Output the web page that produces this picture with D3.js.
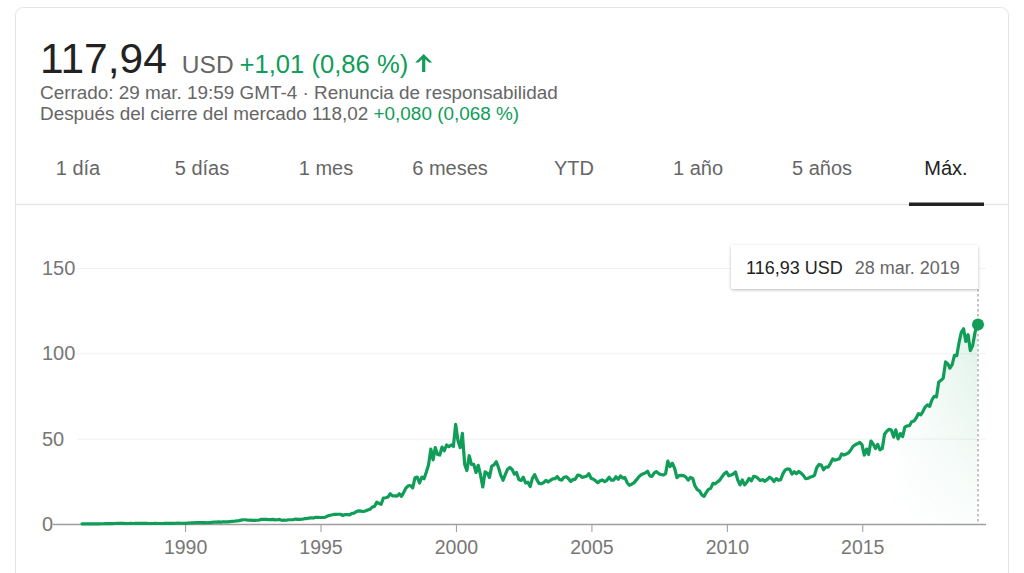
<!DOCTYPE html>
<html>
<head>
<meta charset="utf-8">
<script src="https://cdn.jsdelivr.net/npm/d3@7"></script>
<style>
    body { margin: 0; background: #fff; }
    #chart { width: 1024px; height: 573px; overflow: hidden; }
    text { font-family: Arial, "Liberation Sans", sans-serif; }
</style>
</head>
<body>
<div id="chart"></div>
<script>

// monthly closes, first one is the 13 mar. 1986 listing, last one is 28 mar. 2019
var firstDate = new Date(1986, 2, 13);
var closes = [
    // 1986 (mar - dic)
    0.10, 0.11, 0.11, 0.10, 0.09, 0.10, 0.11, 0.13, 0.14, 0.14,
    // 1987
    0.19, 0.24, 0.27, 0.26, 0.28, 0.31, 0.34, 0.40, 0.42, 0.30, 0.28, 0.32,
    // 1988
    0.30, 0.32, 0.33, 0.35, 0.33, 0.34, 0.31, 0.29, 0.30, 0.30, 0.31, 0.30,
    // 1989
    0.30, 0.29, 0.32, 0.35, 0.40, 0.38, 0.40, 0.44, 0.47, 0.45, 0.44, 0.40,
    // 1990
    0.55, 0.60, 0.65, 0.70, 0.78, 0.85, 0.85, 0.75, 0.75, 0.72, 0.85, 0.95,
    // 1991
    1.05, 1.10, 1.20, 1.10, 1.20, 1.20, 1.30, 1.40, 1.50, 1.60, 1.80, 2.00,
    // 1992
    2.30, 2.50, 2.50, 2.20, 2.30, 2.10, 2.10, 2.20, 2.30, 2.70, 2.80, 2.70,
    // 1993
    2.60, 2.60, 2.70, 2.40, 2.50, 2.70, 2.10, 2.30, 2.20, 2.50, 2.50, 2.50,
    // 1994
    2.90, 2.70, 2.70, 2.80, 3.10, 3.20, 3.40, 3.60, 3.50, 3.90, 3.90, 3.80,
    // 1995
    3.80, 3.90, 4.50, 5.00, 5.30, 5.60, 5.60, 5.70, 5.70, 5.00, 5.50, 5.50,
    // 1996
    5.40, 6.20, 6.40, 7.20, 7.70, 7.50, 7.30, 7.60, 8.20, 8.60, 9.90, 10.3,
    // 1997
    12.8, 12.1, 11.5, 15.2, 15.4, 15.8, 17.7, 16.5, 16.5, 16.3, 17.7, 16.2,
    // 1998
    18.6, 21.2, 22.4, 22.5, 21.2, 27.1, 27.5, 24.0, 27.5, 26.5, 30.5, 34.7,
    // 1999
    43.9, 37.6, 44.8, 40.7, 40.4, 45.1, 42.9, 46.3, 45.3, 46.3, 45.5, 58.4,
    // 2000
    48.9, 44.7, 53.1, 34.9, 31.3, 40.0, 34.9, 35.0, 30.2, 34.4, 28.6, 21.7,
    // 2001
    30.5, 29.7, 27.3, 33.9, 34.6, 36.5, 33.1, 28.5, 25.6, 29.1, 32.1, 33.1,
    // 2002
    31.9, 29.2, 30.2, 26.1, 25.5, 27.4, 24.0, 24.5, 21.9, 26.7, 28.9, 25.9,
    // 2003
    23.7, 23.7, 24.2, 25.6, 24.6, 25.6, 26.4, 26.5, 27.8, 26.1, 25.7, 27.4,
    // 2004
    27.7, 26.5, 24.9, 26.1, 26.2, 28.6, 28.5, 27.3, 27.7, 28.0, 29.5, 26.7,
    // 2005
    26.3, 25.2, 24.2, 25.3, 25.8, 24.8, 25.6, 27.4, 25.7, 25.7, 27.7, 26.2,
    // 2006
    28.2, 26.9, 27.2, 24.2, 22.7, 23.3, 24.1, 25.7, 27.4, 28.7, 29.4, 29.9,
    // 2007
    30.9, 28.2, 27.9, 29.9, 30.7, 29.5, 29.0, 28.7, 29.5, 36.8, 33.6, 35.6,
    // 2008
    32.6, 27.2, 28.4, 28.5, 28.3, 27.5, 25.7, 27.3, 26.7, 22.3, 20.2, 19.4,
    // 2009
    17.1, 16.2, 18.4, 20.3, 20.9, 23.8, 23.5, 24.7, 25.7, 27.7, 29.4, 30.5,
    // 2010
    28.2, 28.7, 29.3, 30.5, 25.8, 23.0, 25.8, 22.9, 24.5, 26.7, 25.3, 27.9,
    // 2011
    27.7, 26.6, 25.4, 26.0, 25.0, 26.0, 27.4, 26.6, 24.9, 26.6, 25.6, 26.0,
    // 2012
    29.5, 31.7, 32.3, 32.0, 29.2, 30.6, 29.5, 30.8, 29.8, 28.5, 26.6, 26.7,
    // 2013
    27.5, 27.8, 28.6, 33.1, 34.9, 34.5, 31.8, 33.4, 33.3, 35.4, 38.1, 37.4,
    // 2014
    37.8, 38.3, 41.0, 40.4, 40.9, 41.7, 43.2, 45.4, 46.4, 47.0, 47.8, 46.5,
    // 2015
    40.4, 43.9, 40.7, 48.6, 46.9, 44.2, 46.7, 43.5, 44.3, 52.6, 54.4, 55.5,
    // 2016
    55.1, 50.9, 55.2, 49.9, 53.0, 51.2, 56.7, 57.5, 57.6, 59.9, 60.3, 62.1,
    // 2017
    64.7, 64.0, 65.9, 68.5, 69.8, 68.9, 72.7, 74.8, 74.5, 83.2, 84.2, 85.5,
    // 2018
    95.0, 93.8, 91.3, 93.5, 98.8, 98.6, 106.1, 112.3, 114.4, 107.0, 110.9, 101.6,
    // 2019 (ene - 28 mar.)
    104.4, 112.0, 116.93
];

var yTicks = [0, 50, 100, 150];
var xTickYears = [1990, 1995, 2000, 2005, 2010, 2015];
var tabs = ["1 día", "5 días", "1 mes", "6 meses", "YTD", "1 año", "5 años", "Máx."];
var activeTab = "Máx.";

var header = {
    price: "117,94",
    currency: "USD",
    change: "+1,01 (0,86 %)",
    closed: "Cerrado: 29 mar. 19:59 GMT-4 · Renuncia de responsabilidad",
    after: "Después del cierre del mercado 118,02 ",
    afterChange: "+0,080 (0,068 %)"
};
var tooltipValue = "116,93 USD";
var tooltipDate = "28 mar. 2019";

var green = "#0f9d58";

// one point per month, placed on the 28th (first point on the listing day)
var data = closes.map(function (v, i) {
    return {
        date: i === 0 ? firstDate : new Date(1986, 2 + i, 28),
        value: v
    };
});
var last = data[data.length - 1];

/*
SVG CANVAS
*/
var width = 1024;
var height = 573;
var svg = d3.select("#chart")
    .append("svg")
    .attr("width", width)
    .attr("height", height);

var defs = svg.append("defs");

var shadow = defs.append("filter").attr("id", "shadow")
    .attr("x", "-10%").attr("y", "-30%").attr("width", "120%").attr("height", "180%");
shadow.append("feDropShadow")
    .attr("dx", 0).attr("dy", 1).attr("stdDeviation", 1.6)
    .attr("flood-color", "#000").attr("flood-opacity", 0.28);

// card
svg.append("rect")
    .attr("x", 15.5).attr("y", 7.5)
    .attr("width", 993).attr("height", 620)
    .attr("rx", 8)
    .attr("fill", "#fff")
    .attr("stroke", "#e3e3e3");

/*
HEADER
*/
var priceLine = svg.append("text").attr("x", 40).attr("y", 73);
priceLine.append("tspan").text(header.price)
    .attr("font-size", 42.5).attr("fill", "#222");
priceLine.append("tspan").text(header.currency)
    .attr("dx", 15).attr("font-size", 24.5).attr("fill", "#666");
priceLine.append("tspan").text(header.change)
    .attr("dx", 6).attr("font-size", 25.6).attr("fill", green);

// up arrow, just after the change text
var box = priceLine.node().getBBox();
var arrowX = box.x + box.width + 15.5;
svg.append("path")
    .attr("transform", "translate(" + arrowX + ",54)")
    .attr("d", "M0,0 L8.5,8.5 L5.2,8.5 L1.6,5.2 L1.6,18 L-1.6,18 L-1.6,5.2 L-5.2,8.5 L-8.5,8.5 Z")
    .attr("fill", green);

svg.append("text")
    .attr("x", 40).attr("y", 98.5)
    .attr("font-size", 18.9).attr("fill", "#666")
    .text(header.closed);

var afterLine = svg.append("text").attr("x", 40).attr("y", 119.5)
    .attr("font-size", 18.9);
afterLine.append("tspan").text(header.after).attr("fill", "#666");
afterLine.append("tspan").text(header.afterChange).attr("fill", green);

/*
TABS
*/
var tabScale = d3.scaleBand().domain(tabs).range([16, 1008]);

svg.selectAll(".tab")
    .data(tabs)
    .join("text")
    .attr("class", "tab")
    .attr("x", function (d) { return tabScale(d) + tabScale.bandwidth() / 2; })
    .attr("y", 175)
    .attr("text-anchor", "middle")
    .attr("font-size", 20)
    .attr("fill", function (d) { return d === activeTab ? "#222" : "#666"; })
    .text(function (d) { return d; });

svg.append("line")
    .attr("x1", 16).attr("x2", 1008)
    .attr("y1", 204.5).attr("y2", 204.5)
    .attr("stroke", "#e6e6e6").attr("stroke-width", 1.5);

svg.append("rect")
    .attr("x", tabScale(activeTab) + tabScale.bandwidth() / 2 - 37)
    .attr("y", 202.5)
    .attr("width", 75).attr("height", 3.5)
    .attr("fill", "#222");

/*
SCALES
*/
var xScale = d3.scaleTime()
    .domain([firstDate, last.date])
    .range([82, 977]);

var yScale = d3.scaleLinear()
    .domain([0, 150])
    .range([524, 268]);

/*
GRID + AXES
*/
svg.selectAll(".grid")
    .data(yTicks.filter(function (d) { return d > 0; }))
    .join("line")
    .attr("class", "grid")
    .attr("x1", 77).attr("x2", 986)
    .attr("y1", function (d) { return yScale(d) + 0.5; })
    .attr("y2", function (d) { return yScale(d) + 0.5; })
    .attr("stroke", "#f1f1f1");

svg.selectAll(".ylab")
    .data(yTicks)
    .join("text")
    .attr("class", "ylab")
    .attr("x", 42)
    .attr("y", function (d) { return yScale(d); })
    .attr("dy", "0.35em")
    .attr("font-size", 20)
    .attr("fill", "#777")
    .text(function (d) { return d; });

var xAxis = svg.append("g")
    .attr("transform", "translate(0," + yScale(0) + ")")
    .call(d3.axisBottom(xScale)
        .tickValues(xTickYears.map(function (y) { return new Date(y, 0, 1); }))
        .tickFormat(d3.timeFormat("%Y"))
        .tickSize(8)
        .tickPadding(8)
        .tickSizeOuter(0));
xAxis.select(".domain").remove();
xAxis.selectAll(".tick line").attr("stroke", "#999");
xAxis.selectAll(".tick text")
    .attr("font-size", 19.5)
    .attr("fill", "#777")
    .attr("font-family", "Arial, 'Liberation Sans', sans-serif");

svg.append("line")
    .attr("x1", 53).attr("x2", 986)
    .attr("y1", yScale(0) + 0.5).attr("y2", yScale(0) + 0.5)
    .attr("stroke", "#9e9e9e").attr("stroke-width", 1.3);

/*
AREA FADE (near the hovered end)
*/
var fillGrad = defs.append("linearGradient").attr("id", "fillGrad")
    .attr("gradientUnits", "userSpaceOnUse")
    .attr("x1", 885).attr("x2", 977).attr("y1", 0).attr("y2", 0);
fillGrad.append("stop").attr("offset", 0).attr("stop-color", green).attr("stop-opacity", 0);
fillGrad.append("stop").attr("offset", 1).attr("stop-color", green).attr("stop-opacity", 0.14);

var maskGrad = defs.append("linearGradient").attr("id", "maskGrad")
    .attr("gradientUnits", "userSpaceOnUse")
    .attr("x1", 0).attr("x2", 0).attr("y1", 320).attr("y2", 524);
maskGrad.append("stop").attr("offset", 0).attr("stop-color", "#fff");
maskGrad.append("stop").attr("offset", 1).attr("stop-color", "#fff").attr("stop-opacity", 0.1);

defs.append("mask").attr("id", "fadeMask")
    .attr("maskUnits", "userSpaceOnUse")
    .attr("x", 0).attr("y", 0).attr("width", width).attr("height", height)
    .append("rect")
    .attr("x", 0).attr("y", 0).attr("width", width).attr("height", height)
    .attr("fill", "url(#maskGrad)");

var area = d3.area()
    .x(function (d) { return xScale(d.date); })
    .y0(yScale(0))
    .y1(function (d) { return yScale(d.value); });

svg.append("path")
    .datum(data)
    .attr("d", area)
    .attr("fill", "url(#fillGrad)")
    .attr("mask", "url(#fadeMask)");

/*
LINE
*/
var line = d3.line()
    .x(function (d) { return xScale(d.date); })
    .y(function (d) { return yScale(d.value); });

svg.append("path")
    .datum(data)
    .attr("d", line)
    .attr("fill", "none")
    .attr("stroke", green)
    .attr("stroke-width", 3.2)
    .attr("stroke-linejoin", "round")
    .attr("stroke-linecap", "round");

/*
HOVER MARKER + TOOLTIP
*/
var hx = xScale(last.date) + 1;
var tipTop = 245, tipH = 44, tipW = 247;

svg.append("line")
    .attr("x1", hx).attr("x2", hx)
    .attr("y1", tipTop + tipH).attr("y2", yScale(0))
    .attr("stroke", "#999")
    .attr("stroke-width", 1.2)
    .attr("stroke-dasharray", "2.5,2.5");

svg.append("circle")
    .attr("cx", hx).attr("cy", yScale(last.value))
    .attr("r", 6)
    .attr("fill", green);

var tip = svg.append("g").attr("transform", "translate(" + (hx - tipW) + "," + tipTop + ")");
tip.append("rect")
    .attr("width", tipW).attr("height", tipH)
    .attr("rx", 2)
    .attr("fill", "#fff")
    .attr("filter", "url(#shadow)");
var tipText = tip.append("text").attr("x", 15).attr("y", 28.5).attr("font-size", 18);
tipText.append("tspan").text(tooltipValue).attr("fill", "#222");
tipText.append("tspan").text(tooltipDate).attr("dx", 12).attr("fill", "#666");

</script>
</body>
</html>
